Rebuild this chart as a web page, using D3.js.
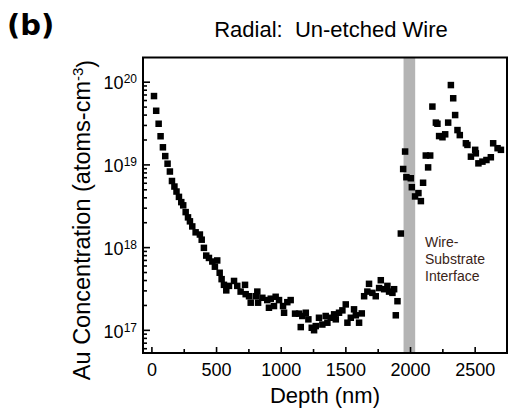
<!DOCTYPE html>
<html>
<head>
<meta charset="utf-8">
<script src="https://cdn.jsdelivr.net/npm/d3@7"></script>
<style>
body { margin: 0; background: #fff; }
text { font-family: "Liberation Sans", Arial, sans-serif; fill: #000; }
</style>
</head>
<body>
<svg width="510" height="415"></svg>
<script>
// depth (nm) and Au concentration (atoms/cm3)
var depth = [
  20, 37, 56, 71, 89, 107, 125, 143, 159, 178, 194, 213, 231, 246, 265, 283, 298, 316, 342, 375,
  389, 406, 424, 445, 471, 509, 491, 528, 543, 561, 579, 600, 639, 664, 690, 724, 729, 755, 768, 807,
  819, 825, 858, 896, 909, 923, 961, 987, 948, 1018, 1026, 1051, 1077, 1111, 1142, 1167, 1155, 1194, 1214, 1258,
  1240, 1271, 1296, 1322, 1348, 1361, 1387, 1413, 1426, 1451, 1477, 1503, 1516, 1542, 1567, 1581, 1606, 1627, 1645, 1683,
  1670, 1709, 1735, 1774, 1761, 1800, 1825, 1838, 1864, 1877, 1903, 1890, 1929,
  2316, 2334, 2173, 2349, 2200, 2212, 2295, 2367, 2385, 2225, 2251, 2272, 2432, 2444, 2504, 2471, 2509, 2529, 2560, 2591,
  2625, 2643, 2677, 2703, 1962, 1947, 1972, 2006, 2014, 2039, 2065, 2084, 2101, 2122, 2156, 2140
];
var conc = [
  6.7e19, 4.45e19, 3.1e19, 2.19e19, 1.61e19, 1.26e19, 1.02e19, 8.2e18, 6.3e18, 5.4e18, 4.7e18, 4.05e18, 3.5e18, 3.2e18, 2.65e18, 2.29e18, 2.05e18, 1.78e18, 1.51e18, 1.42e18,
  1.23e18, 9.8e17, 7.9e17, 7.4e17, 6.7e17, 6.9e17, 5.8e17, 4.9e17, 4.1e17, 3.5e17, 3.0e17, 3.4e17, 3.9e17, 3.4e17, 2.9e17, 3.5e17, 2.7e17, 2.55e17, 2.13e17, 2.55e17,
  2.9e17, 2.13e17, 2.44e17, 2.29e17, 1.85e17, 2.38e17, 2.51e17, 2.29e17, 1.94e17, 1.94e17, 1.61e17, 2.16e17, 2.29e17, 1.57e17, 1.57e17, 1.47e17, 1.08e17, 1.61e17, 1.34e17, 9.9e16,
  1.06e17, 1.11e17, 1.40e17, 1.16e17, 1.47e17, 1.22e17, 1.40e17, 1.54e17, 1.34e17, 1.61e17, 1.72e17, 2.03e17, 1.22e17, 1.40e17, 1.77e17, 1.50e17, 1.22e17, 1.58e17, 2.55e17, 3.6e17,
  2.9e17, 2.8e17, 2.55e17, 3.98e17, 3.2e17, 3.1e17, 3.4e17, 2.9e17, 2.8e17, 3.1e17, 2.22e17, 1.50e17, 1.46e18,
  9.1e19, 6.3e19, 5.0e19, 3.95e19, 3.2e19, 3.1e19, 3.2e19, 2.6e19, 2.26e19, 2.2e19, 2.13e19, 2.31e19, 1.80e19, 1.72e19, 1.50e19, 1.24e19, 1.36e19, 1.03e19, 1.08e19, 1.13e19,
  1.22e19, 1.80e19, 1.57e19, 1.50e19, 1.43e19, 8.8e18, 7.0e18, 6.8e18, 5.3e18, 4.1e18, 4.5e18, 3.6e18, 6.0e18, 1.28e19, 1.28e19, 9.2e18
];
var xMajor = [0, 500, 1000, 1500, 2000, 2500];
var xMinor = [250, 750, 1250, 1750, 2250];
var yDecades = [17, 18, 19, 20];
var interfaceBand = [1950, 2040];
var noteLines = ["Wire-", "Substrate", "Interface"];

var svg = d3.select("svg"),
    plotL = 143, plotR = 507, plotT = 57.5, plotB = 353;

var x = d3.scaleLinear().domain([-65, 2750]).range([plotL, plotR]);
var y = d3.scaleLog().domain([5.25e16, 1.96e20]).range([plotB, plotT]);

var yMinor = [];
[16, 17, 18, 19, 20].forEach(function (d) {
  for (var m = 2; m <= 9; m++) {
    var v = m * Math.pow(10, d);
    if (v > y.domain()[0] && v < y.domain()[1]) yMinor.push(v);
  }
});

// grey interface band
svg.append("rect")
  .attr("x", x(interfaceBand[0]))
  .attr("y", plotT)
  .attr("width", x(interfaceBand[1]) - x(interfaceBand[0]))
  .attr("height", plotB - plotT)
  .attr("fill", "#b4b4b4");

// data squares
var s = 6.5;
svg.append("g").selectAll("rect")
  .data(d3.zip(depth, conc))
  .enter().append("rect")
  .attr("x", d => x(d[0]) - s / 2)
  .attr("y", d => y(d[1]) - s / 2)
  .attr("width", s)
  .attr("height", s)
  .attr("fill", "#000");

// axes, ticks pointing inward
var gx = svg.append("g").attr("transform", "translate(0," + plotB + ")");
gx.call(d3.axisBottom(x).tickValues(xMajor).tickSize(-6).tickPadding(10).tickFormat(d3.format("d")));
gx.append("g").call(d3.axisBottom(x).tickValues(xMinor).tickSize(-4).tickFormat(""));
gx.selectAll(".domain").remove();
gx.selectAll("line").attr("stroke-width", 1.6);
gx.selectAll("text").style("font-size", "18px");

var gy = svg.append("g").attr("transform", "translate(" + plotL + ",0)");
gy.append("g").call(d3.axisLeft(y).tickValues(yMinor).tickSize(-4).tickFormat(""));
var gyMajor = gy.append("g")
  .call(d3.axisLeft(y).tickValues(yDecades.map(d => Math.pow(10, d))).tickSize(-7).tickPadding(6).tickFormat(""));
gy.selectAll(".domain").remove();
gy.selectAll("line").attr("stroke-width", 1.6);
gyMajor.selectAll(".tick text")
  .attr("dy", "0.4em")
  .style("font-size", "18px")
  .each(function (d) {
    var t = d3.select(this);
    t.text("10");
    t.append("tspan").attr("dy", "-0.5em").style("font-size", "12px").text(Math.round(Math.log10(d)));
  });

// frame
svg.append("rect")
  .attr("x", plotL).attr("y", plotT)
  .attr("width", plotR - plotL).attr("height", plotB - plotT)
  .attr("fill", "none").attr("stroke", "#000").attr("stroke-width", 2);

// labels
svg.append("text").attr("x", 7).attr("y", 35)
  .style("font-family", "'DejaVu Sans', Verdana, sans-serif")
  .style("font-weight", "bold").style("font-size", "29px")
  .text("(b)");

svg.append("text").attr("x", 331).attr("y", 37)
  .attr("text-anchor", "middle").style("font-size", "22px")
  .attr("xml:space", "preserve")
  .text("Radial:  Un-etched Wire");

svg.append("text").attr("x", 325).attr("y", 403)
  .attr("text-anchor", "middle").style("font-size", "22px")
  .text("Depth (nm)");

var yl = svg.append("text")
  .attr("transform", "translate(90,220) rotate(-90)")
  .attr("text-anchor", "middle").style("font-size", "23.5px");
yl.append("tspan").text("Au Concentration (atoms-cm");
yl.append("tspan").attr("dy", "-0.5em").style("font-size", "15px").text("-3");
yl.append("tspan").attr("dy", "0.5em").text(")");

svg.append("g").selectAll("text")
  .data(noteLines)
  .enter().append("text")
  .attr("x", 425)
  .attr("y", (d, i) => 247 + i * 17)
  .style("font-size", "14px")
  .style("fill", "#3a2418")
  .text(d => d);
</script>
</body>
</html>
